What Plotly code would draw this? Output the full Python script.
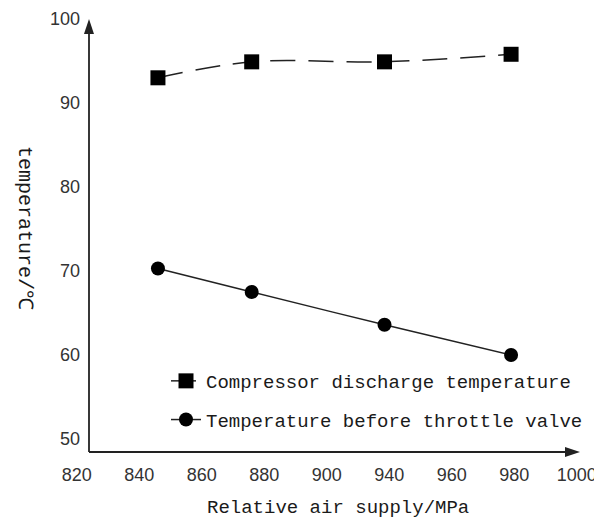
import numpy as np
import plotly.graph_objects as go

# ---- data ----
tick_labels = [820, 840, 860, 880, 900, 940, 960, 980, 1000]
y_ticks = [50, 60, 70, 80, 90, 100]

air_supply = [846, 876, 937, 979]                  # MPa
compressor_temp = [93.0, 94.9, 94.9, 95.8]          # ℃
throttle_temp = [70.3, 67.5, 63.6, 60.0]            # ℃

names = ["Compressor discharge temperature", "Temperature before throttle valve"]

# tick labels are equally spaced on the axis; map values between labels
tick_pos = list(range(len(tick_labels)))
x_plot = np.interp(air_supply, tick_labels, tick_pos)

OFF = 8  # page body margin
W, H = 594, 512
L, R, T, B = 62, 12, 7, 64
pw, ph = W - L - R, H - T - B

def px2paper_x(px):
    return (px - OFF - L) / pw

def px2paper_y(py):
    return (H - B - (py - OFF)) / ph

def pt(px, py):
    return f"{px2paper_x(px):.5f},{px2paper_y(py):.5f}"

mono = "Liberation Mono, Courier New, monospace"
sans = "Liberation Sans, Arial, sans-serif"
ink = "#1a1a1a"
axis_col = "#222222"

fig = go.Figure()
fig.add_trace(go.Scatter(
    x=x_plot, y=compressor_temp, customdata=air_supply, name=names[0],
    mode="lines+markers", legendgroup="a",
    line=dict(color="#222222", width=1.5, dash="25px,13px", shape="spline"),
    marker=dict(symbol="square", size=15, color="black"),
    hovertemplate="%{customdata} MPa<br>%{y} ℃<extra></extra>",
))
fig.add_trace(go.Scatter(
    x=x_plot, y=throttle_temp, customdata=air_supply, name=names[1],
    mode="lines+markers", legendgroup="b",
    line=dict(color="#222222", width=1.5, shape="spline"),
    marker=dict(symbol="circle", size=14, color="black"),
    hovertemplate="%{customdata} MPa<br>%{y} ℃<extra></extra>",
))

# axis ranges so that tick positions match the reference layout
x0 = -6.7 / 62.5
x1 = x0 + pw / 62.5
y_top = 100 + 4 / 8.4
y_bot = 100 - 437 / 8.4

corner_x = px2paper_x(89)
corner_y = px2paper_y(452)

shapes = [
    # y axis line + arrowhead
    dict(type="line", xref="paper", yref="paper",
         x0=corner_x, y0=corner_y, x1=corner_x, y1=px2paper_y(32),
         line=dict(color=axis_col, width=1.8)),
    dict(type="path", xref="paper", yref="paper",
         path=f"M{pt(84, 34)} L{pt(94, 34)} L{pt(89, 19)} Z",
         fillcolor=axis_col, line=dict(width=0)),
    # x axis line + arrowhead
    dict(type="line", xref="paper", yref="paper",
         x0=corner_x, y0=corner_y, x1=px2paper_x(567), y1=corner_y,
         line=dict(color=axis_col, width=1.8)),
    dict(type="path", xref="paper", yref="paper",
         path=f"M{pt(565, 447)} L{pt(565, 457)} L{pt(580, 452)} Z",
         fillcolor=axis_col, line=dict(width=0)),
]

fig.update_layout(
    width=W, height=H,
    margin=dict(l=L, r=R, t=T, b=B, autoexpand=False),
    paper_bgcolor="white", plot_bgcolor="white",
    showlegend=True,
    legend=dict(
        x=px2paper_x(166), y=px2paper_y(362), xanchor="left", yanchor="top",
        font=dict(family=mono, size=19, color=ink),
        bgcolor="rgba(0,0,0,0)", traceorder="grouped", tracegroupgap=11,
    ),
    xaxis=dict(
        range=[x0, x1], tickmode="array", tickvals=tick_pos,
        ticktext=[str(t) for t in tick_labels],
        showgrid=False, zeroline=False, showline=False, ticks="",
        tickfont=dict(family=sans, size=18, color="#333333"),
        ticklabelstandoff=6, automargin=False,
    ),
    yaxis=dict(
        range=[y_bot, y_top], tickmode="array", tickvals=y_ticks,
        showgrid=False, zeroline=False, showline=False, ticks="",
        anchor="free", position=corner_x,
        tickfont=dict(family=sans, size=18, color="#333333"),
        ticklabelstandoff=9, automargin=False,
    ),
    shapes=shapes,
    annotations=[
        dict(xref="paper", yref="paper", x=px2paper_x(338), y=px2paper_y(508),
             text="Relative air supply/MPa", showarrow=False,
             xanchor="center", yanchor="middle",
             font=dict(family=mono, size=19, color=ink)),
        dict(xref="paper", yref="paper", x=px2paper_x(25), y=px2paper_y(228),
             text="temperature/℃", showarrow=False, textangle=90,
             xanchor="center", yanchor="middle",
             font=dict(family=mono, size=20, color=ink)),
    ],
)

fig.write_html("out.html")
